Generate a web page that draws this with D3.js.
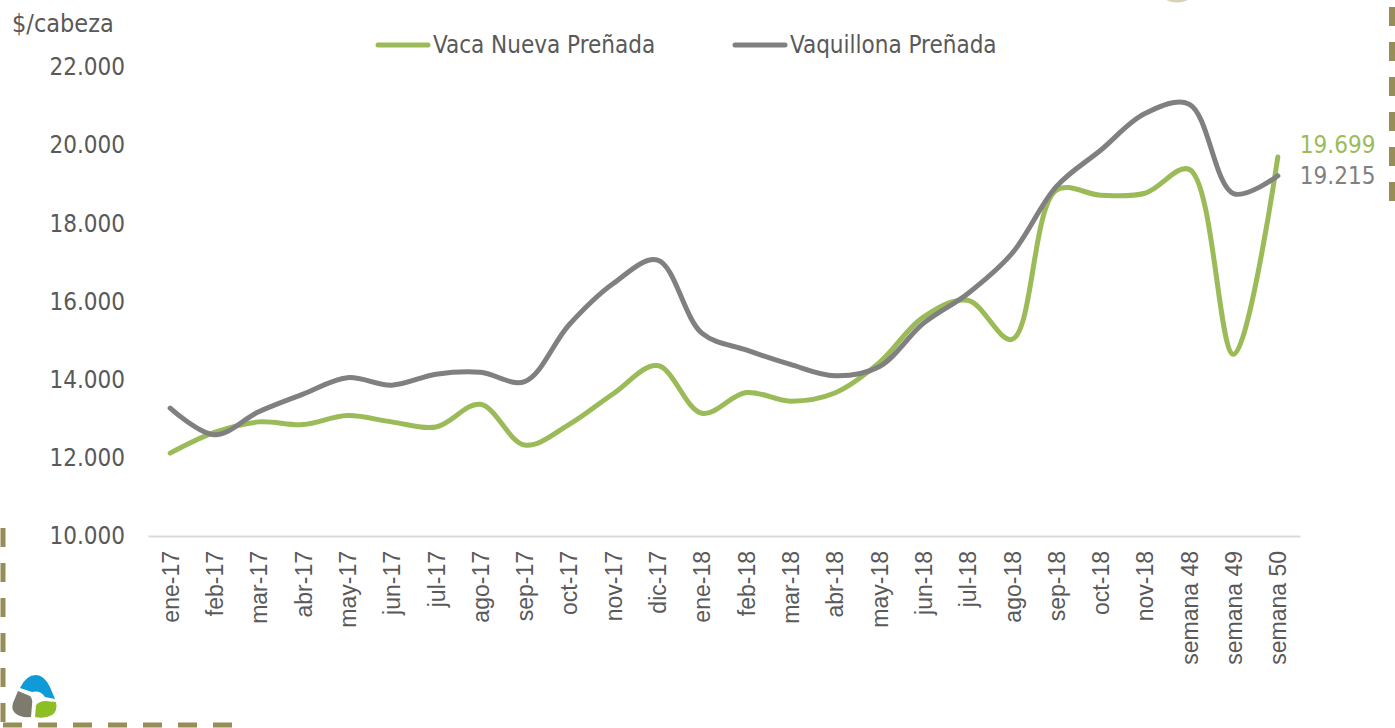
<!DOCTYPE html>
<html>
<head>
<meta charset="utf-8">
<script src="https://cdn.jsdelivr.net/npm/d3@7"></script>
<style>
  body { margin: 0; background: #fff; }
  svg { display: block; }
</style>
</head>
<body>
<div id="chart-area"></div>
<script>
// data
let categories = ["ene-17", "feb-17", "mar-17", "abr-17", "may-17", "jun-17", "jul-17", "ago-17",
  "sep-17", "oct-17", "nov-17", "dic-17", "ene-18", "feb-18", "mar-18", "abr-18", "may-18",
  "jun-18", "jul-18", "ago-18", "sep-18", "oct-18", "nov-18", "semana 48", "semana 49", "semana 50"]

let vacaNueva = [12120, 12650, 12920, 12850, 13080, 12920, 12790, 13370, 12330, 12850, 13640, 14360,
  13140, 13670, 13450, 13660, 14430, 15600, 16030, 15030, 18850, 18720, 18770, 19380, 14650, 19699]

let vaquillona = [13270, 12590, 13180, 13630, 14050, 13860, 14140, 14190, 13950, 15400, 16460, 17060,
  15190, 14760, 14390, 14100, 14330, 15440, 16200, 17230, 18940, 19870, 20810, 21050, 18760, 19215]

let yTicks = [10000, 12000, 14000, 16000, 18000, 20000, 22000]

let series = [
  { name: "Vaca Nueva Preñada", values: vacaNueva, color: "#9bbb59" },
  { name: "Vaquillona Preñada", values: vaquillona, color: "#808080" }
]

const textColor = "#595959"
const frameColor = "#978d59"
const mainFont = "'DejaVu Sans Condensed', 'DejaVu Sans', sans-serif"

let svg = d3.select("#chart-area").append("svg")
  .attr("width", 1395)
  .attr("height", 728)

let x = d3.scalePoint()
  .domain(categories)
  .range([148, 1300])
  .padding(0.5)

let y = d3.scaleLinear()
  .domain([10000, 22000])
  .range([536, 67])

let locale = d3.formatLocale({ decimal: ",", thousands: ".", grouping: [3], currency: ["$", ""] })
let fmt = locale.format(",")

// y axis (labels only)
let yAxis = svg.append("g")
  .attr("transform", "translate(148,0)")
  .call(d3.axisLeft(y).tickValues(yTicks).tickFormat(fmt).tickSize(0).tickPadding(23))
yAxis.select(".domain").remove()
yAxis.selectAll("text")
  .attr("fill", textColor)
  .attr("font-family", mainFont)
  .attr("font-size", 24)

// x axis
let xAxis = svg.append("g")
  .attr("transform", "translate(0,536)")
  .call(d3.axisBottom(x).tickSize(0).tickSizeOuter(0))
xAxis.select(".domain")
  .attr("stroke", "#d9d9d9")
  .attr("stroke-width", 2)
xAxis.selectAll("text")
  .attr("transform", "rotate(-90)")
  .attr("x", -15)
  .attr("y", 0)
  .attr("dy", "0.35em")
  .attr("text-anchor", "end")
  .attr("fill", textColor)
  .attr("font-family", "'Liberation Sans', Arial, sans-serif")
  .attr("font-size", 23)

// lines
let line = d3.line()
  .x((d, i) => x(categories[i]))
  .y(d => y(d))
  .curve(d3.curveCatmullRom.alpha(0.5))

svg.selectAll(".series")
  .data(series)
  .enter()
  .append("path")
    .attr("class", "series")
    .attr("fill", "none")
    .attr("stroke", s => s.color)
    .attr("stroke-width", 5)
    .attr("stroke-linecap", "round")
    .attr("stroke-linejoin", "round")
    .attr("d", s => line(s.values))

// last value labels
let lastCat = categories[categories.length - 1]
svg.selectAll(".last-label")
  .data(series)
  .enter()
  .append("text")
    .attr("class", "last-label")
    .attr("x", x(lastCat) + 22)
    .attr("y", (s, i) => y(s.values[s.values.length - 1]) + (i == 0 ? -12 : 0))
    .attr("dy", "0.35em")
    .attr("fill", s => s.color)
    .attr("font-family", mainFont)
    .attr("font-size", 24)
    .text(s => fmt(s.values[s.values.length - 1]))

// unit label
svg.append("text")
  .attr("x", 12)
  .attr("y", 32)
  .attr("fill", textColor)
  .attr("font-family", mainFont)
  .attr("font-size", 25)
  .text("$/cabeza")

// legend
let legendX = [378, 735]
let legend = svg.selectAll(".legend")
  .data(series)
  .enter()
  .append("g")
    .attr("class", "legend")
    .attr("transform", (s, i) => "translate(" + legendX[i] + ",45)")

legend.append("line")
  .attr("x1", 0)
  .attr("x2", 50)
  .attr("stroke", s => s.color)
  .attr("stroke-width", 5)
  .attr("stroke-linecap", "round")

legend.append("text")
  .attr("x", 55)
  .attr("dy", "0.35em")
  .attr("fill", textColor)
  .attr("font-family", mainFont)
  .attr("font-size", 24)
  .text(s => s.name)

// decorative dashed frame pieces
let dash = "19 16"
svg.append("line")
  .attr("x1", 1392).attr("y1", 7).attr("x2", 1392).attr("y2", 205)
  .attr("stroke", frameColor).attr("stroke-width", 6).attr("stroke-dasharray", dash)
svg.append("line")
  .attr("x1", 3).attr("y1", 528).attr("x2", 3).attr("y2", 728)
  .attr("stroke", frameColor).attr("stroke-width", 5).attr("stroke-dasharray", dash)
svg.append("line")
  .attr("x1", 3).attr("y1", 725).attr("x2", 237).attr("y2", 725)
  .attr("stroke", frameColor).attr("stroke-width", 5).attr("stroke-dasharray", dash)
svg.append("path")
  .attr("d", "M1166,0 Q1177,5 1188,0 Z")
  .attr("fill", "#d6d1b8")

// small logo bottom left
let logo = svg.append("g").attr("transform", "translate(12,675)")
logo.append("path")
  .attr("d", "M8,13 Q14,0 24,0 Q32,0 38,12 L43,24 L33,22 Q28,15 20,17 Z")
  .attr("fill", "#0f9bd7")
logo.append("path")
  .attr("d", "M6,16 L18,21 Q21,24 20,30 L19,42 Q8,43 3,38 Q-1,34 1,28 Z")
  .attr("fill", "#7d7b6e")
logo.append("path")
  .attr("d", "M24,30 Q28,26 33,26 L44,27 Q46,36 40,40 Q33,44 23,42 Z")
  .attr("fill", "#8cbf26")
</script>
</body>
</html>
